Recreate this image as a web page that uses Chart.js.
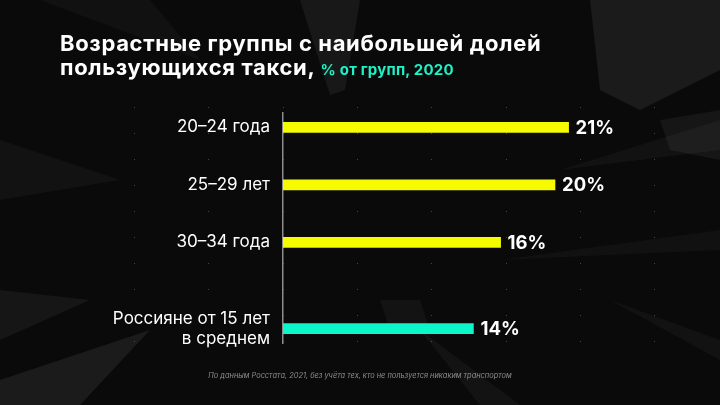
<!DOCTYPE html>
<html><head><meta charset="utf-8">
<script src="https://cdn.jsdelivr.net/npm/chart.js@4"></script>
<style>
html,body{margin:0;padding:0;background:#0b0b0b;}
#wrap{position:relative;width:720px;height:405px;overflow:hidden;}
#c{position:absolute;left:0;top:0;}
#title{position:absolute;left:60px;top:31px;color:#fff;font:700 22px Inter, "Noto Sans", sans-serif;line-height:24px;letter-spacing:0.65px;white-space:nowrap;}
#title span{color:#1ef2c6;font-size:15px;letter-spacing:0.2px;}
#foot{position:absolute;left:0;width:720px;top:371px;text-align:center;color:#8e8e8e;font:italic 7.4px Inter, "Noto Sans", sans-serif;}
</style></head>
<body><div id="wrap">
<canvas id="c" width="720" height="405"></canvas>
<div id="title">Возрастные группы с наибольшей долей<br>пользующихся такси, <span>% от групп, 2020</span></div>
<div id="foot">По данным Росстата, 2021, без учёта тех, кто не пользуется никаким транспортом</div>
</div>
<script>
const categories = ["20–24 года", "25–29 лет", "30–34 года", ["Россияне от 15 лет", "в среднем"]];
const values = [21, 20, 16, 14];
const highlight = [false, false, false, true];

// layout: blank slots before each category (spacing)
const gapsBefore = [0, 1, 1, 2];
const labels = [], data = [], colors = [];
categories.forEach((c, i) => {
  for (let g = 0; g < gapsBefore[i]; g++) { labels.push(''); data.push(null); colors.push('rgba(0,0,0,0)'); }
  labels.push(c); data.push(values[i]); colors.push(highlight[i] ? '#0cf7c9' : '#f6fb00');
});

const bgPlugin = {
  id: 'bg',
  beforeDraw(chart) {
    const ctx = chart.ctx;
    ctx.save();
    ctx.fillStyle = '#0a0a0a';
    ctx.fillRect(0, 0, chart.width, chart.height);
    const polys = [
      [[300,0],[360,0],[345,90],[330,95]],
      [[590,0],[720,0],[720,70],[640,110],[600,90]],
      [[660,120],[720,110],[720,160],[670,150]],
      [[0,290],[90,300],[0,340]],
      [[0,380],[150,330],[80,405],[0,405]],
      [[380,300],[420,300],[430,330],[390,330]],
      [[0,140],[120,180],[0,200]],
      [[560,170],[720,120],[720,150]],
      [[500,260],[720,230],[720,250]],
      [[420,330],[520,405],[480,405]],
      [[40,0],[150,0],[200,60]],
      [[610,300],[720,340],[720,360]]
    ];
    const alphas = [0.06,0.07,0.05,0.05,0.07,0.04,0.035,0.035,0.03,0.04,0.03,0.035];
    polys.forEach((p, k) => {
      ctx.fillStyle = 'rgba(255,255,255,' + alphas[k] + ')';
      ctx.beginPath();
      ctx.moveTo(p[0][0], p[0][1]);
      for (let j = 1; j < p.length; j++) ctx.lineTo(p[j][0], p[j][1]);
      ctx.closePath();
      ctx.fill();
    });
    ctx.fillStyle = 'rgba(160,160,160,0.4)';
    for (let x = 134; x < 700; x += 74.3) {
      for (let y = 107; y < 360; y += 26) {
        ctx.fillRect(Math.round(x), y, 1, 1);
      }
    }
    ctx.restore();
  }
};

const valueLabels = {
  id: 'valueLabels',
  afterDatasetsDraw(chart) {
    const ctx = chart.ctx;
    const meta = chart.getDatasetMeta(0);
    ctx.save();
    ctx.fillStyle = '#ffffff';
    ctx.font = '700 18.5px Inter, "Noto Sans", sans-serif';
    ctx.textAlign = 'left';
    ctx.textBaseline = 'middle';
    meta.data.forEach((bar, i) => {
      const v = chart.data.datasets[0].data[i];
      if (v == null) return;
      ctx.fillText(v + '%', bar.x + 7, bar.y + 1);
    });
    ctx.restore();
  }
};

new Chart(document.getElementById('c'), {
  type: 'bar',
  data: { labels: labels, datasets: [{ data: data, backgroundColor: colors, barThickness: 10, borderWidth: 0 }] },
  options: {
    indexAxis: 'y',
    responsive: false,
    animation: false,
    layout: { padding: { top: 113, bottom: 62, right: 29, left: 0 } },
    plugins: { legend: { display: false }, tooltip: { enabled: false } },
    scales: {
      x: { display: false, min: 0, max: 30 },
      y: {
        grid: { display: false, drawTicks: false },
        border: { display: true, color: '#8c8c8c', width: 1.5 },
        ticks: { color: '#ffffff', font: { size: 17, family: 'Inter, "Noto Sans", sans-serif' }, padding: 13, autoSkip: false, lineHeight: 1.1 },
        afterFit(s) { s.width = 283; }
      }
    }
  },
  plugins: [bgPlugin, valueLabels]
});
</script>
</body></html>
